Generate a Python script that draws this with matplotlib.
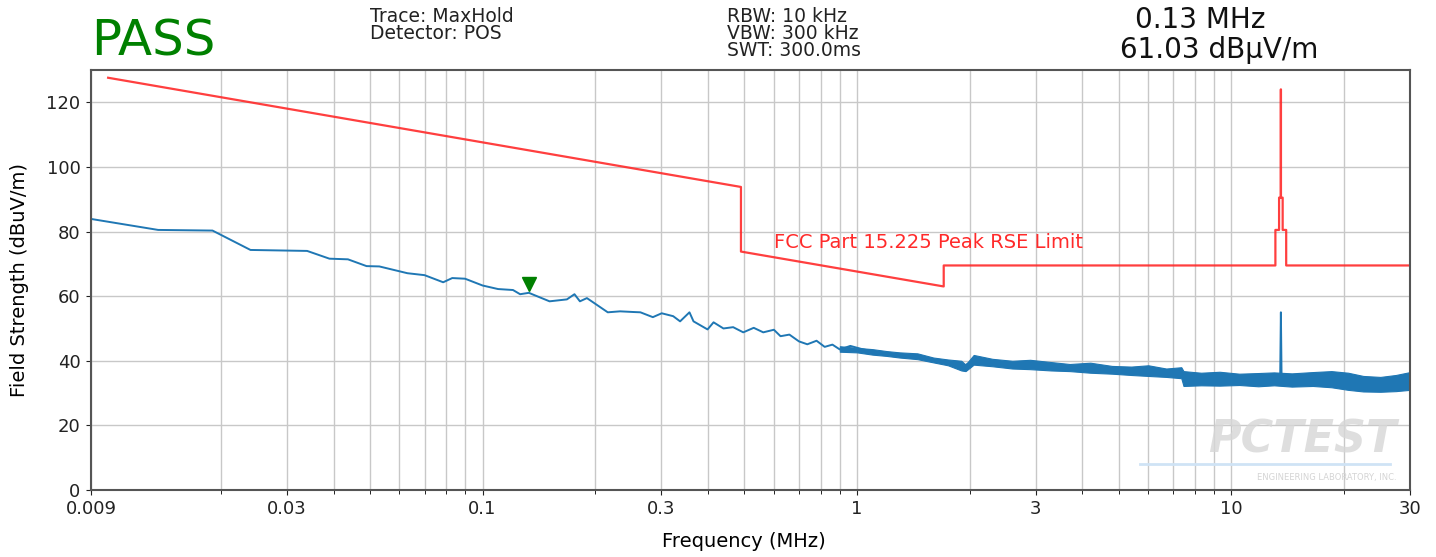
import numpy as np
import matplotlib
matplotlib.use("Agg")
import matplotlib.pyplot as plt
import matplotlib.transforms as mtransforms

# limit line breakpoints (MHz, dBuV/m)
limit_freq = [0.01, 0.49, 0.49, 1.705, 1.705, 13.11, 13.11, 13.41, 13.41, 13.553,
              13.553, 13.567, 13.567, 13.71, 13.71, 14.01, 14.01, 30]
limit_level = [127.6, 93.8, 73.8, 63.0, 69.5, 69.5, 80.5, 80.5, 90.5, 90.5,
               124.0, 124.0, 90.5, 90.5, 80.5, 80.5, 69.5, 69.5]

trace_freq = [0.009, 0.0136, 0.019, 0.024, 0.034, 0.039, 0.0437, 0.049, 0.053, 0.063,
              0.070, 0.0785, 0.083, 0.0898, 0.1, 0.11, 0.1206, 0.126, 0.133, 0.137,
              0.151, 0.168, 0.176, 0.182, 0.19, 0.216, 0.233, 0.252, 0.264, 0.285,
              0.301, 0.323, 0.337, 0.357, 0.366, 0.399, 0.414, 0.44, 0.467, 0.497,
              0.53, 0.562, 0.60, 0.625, 0.66, 0.70, 0.737, 0.78, 0.82, 0.86,
              0.90, 0.96, 1.04, 1.15, 1.28, 1.5, 1.92, 2.05, 2.89, 4.84, 7.4,
              7.5, 13.5, 13.56, 13.62, 18.3, 22.4, 30]
trace_level = [83.9, 80.5, 80.3, 74.3, 74.0, 71.6, 71.4, 69.3, 69.2, 67.1,
               66.5, 64.3, 65.6, 65.4, 63.3, 62.2, 61.9, 60.6, 61.03, 60.4,
               58.4, 59.0, 60.6, 58.4, 59.4, 55.0, 55.3, 55.1, 55.0, 53.5,
               54.7, 53.8, 52.2, 55.0, 52.2, 49.7, 51.9, 50.0, 50.4, 48.8,
               50.2, 48.8, 49.6, 47.6, 48.1, 46.0, 45.1, 46.2, 44.3, 45.0,
               43.5, 44.6, 43.5, 42.6, 41.7, 40.9, 38.2, 40.2, 38.6, 36.9, 35.8,
               34.0, 34.2, 55.0, 34.2, 34.0, 32.2, 33.4]

# noise envelope of the trace at the high end
band_freq = [0.9, 1.0, 1.1, 1.2, 1.3, 1.45, 1.6, 1.75, 1.9, 1.95, 2.05, 2.3, 2.6, 2.9,
             3.3, 3.7, 4.2, 4.8, 5.4, 6.0, 6.7, 7.35, 7.45, 8.3, 9.3, 10.5, 11.8, 13.0,
             14.5, 16.5, 18.5, 20.5, 22.5, 25, 27.5, 30]
band_upper = [44.5, 44.0, 43.6, 43.0, 42.6, 42.3, 41.0, 40.4, 40.0, 38.8, 41.8, 40.6,
              40.0, 40.3, 39.6, 39.0, 39.4, 38.4, 38.2, 38.6, 37.6, 38.0, 36.8, 36.3,
              36.6, 36.0, 36.2, 36.4, 36.1, 36.5, 36.8, 36.3, 35.3, 35.0, 35.6, 36.5]
band_lower = [42.8, 42.6, 41.9, 41.5, 41.0, 40.5, 39.5, 38.6, 37.0, 36.8, 38.8, 38.3,
              37.6, 37.4, 37.0, 36.8, 36.3, 36.0, 35.6, 35.3, 35.0, 34.6, 32.2, 32.4,
              32.3, 32.5, 32.1, 32.4, 32.0, 32.2, 31.8, 31.0, 30.5, 30.4, 30.6, 31.0]

marker_freq = 0.133
marker_level = 61.03

xticks = [0.009, 0.03, 0.1, 0.3, 1, 3, 10, 30]
xtick_labels = ["0.009", "0.03", "0.1", "0.3", "1", "3", "10", "30"]
yticks = [0, 20, 40, 60, 80, 100, 120]

W, H = 1436, 557
fig = plt.figure(figsize=(W / 100, H / 100), dpi=100)
ax = fig.add_axes([91 / W, 1 - 490 / H, (1410 - 91) / W, (490 - 70) / H])

ax.plot(limit_freq, limit_level, color="#ff2a2a", lw=1.6, alpha=0.9)
ax.fill_between(band_freq, band_lower, band_upper, color="#1f77b4", lw=0.8)
ax.plot(trace_freq, trace_level, color="#1f77b4", lw=1.4)

trans = mtransforms.offset_copy(ax.transData, fig=fig, x=0, y=6, units="points")
ax.plot([marker_freq], [marker_level], marker="v", color="green", ms=10,
        transform=trans, ls="none")

ax.text(0.6, 76.5, "FCC Part 15.225 Peak RSE Limit", color="#ff2a2a", fontsize=14,
        va="center")

# watermark
ax.text(0.99, 0.12, "PCTEST", transform=ax.transAxes, ha="right", va="center",
        fontsize=32, fontweight="bold", style="italic", color="#d6d6d6", alpha=0.8)
ax.text(0.99, 0.03, "ENGINEERING LABORATORY, INC.", transform=ax.transAxes,
        ha="right", va="center", fontsize=6, color="#d4d4d4")
ax.plot([0.795, 0.985], [0.062, 0.062], transform=ax.transAxes, color="#cfe3f5", lw=2)

ax.set_xscale("log")
ax.set_xlim(0.009, 30)
ax.set_ylim(0, 130)
ax.set_xticks(xticks)
ax.set_xticklabels(xtick_labels)
ax.set_yticks(yticks)
ax.grid(True, which="both", color="#c8c8c8", lw=1)
ax.set_axisbelow(True)
ax.tick_params(labelsize=13, colors="#222222", pad=4)
ax.tick_params(which="minor", length=3)
for s in ax.spines.values():
    s.set_color("#555555")
    s.set_linewidth(1.5)

ax.set_xlabel("Frequency (MHz)", fontsize=14)
ax.set_ylabel("Field Strength (dBuV/m)", fontsize=14)
ax.xaxis.set_label_coords((744 - 91) / 1319, (490 - 532) / 420)
ax.yaxis.set_label_coords((29 - 91) / 1319, 0.5)

fig.text(91 / W, 1 - 56 / H, "PASS", color="green", fontsize=36, va="baseline")
fig.text(370 / W, 1 - 7 / H, "Trace: MaxHold\nDetector: POS", fontsize=13.5,
         va="top", linespacing=0.85, color="#222222")
fig.text(727 / W, 1 - 7 / H, "RBW: 10 kHz\nVBW: 300 kHz\nSWT: 300.0ms", fontsize=13.5,
         va="top", linespacing=0.85, color="#222222")
fig.text(1135 / W, 1 - 6 / H, "0.13 MHz", fontsize=20, va="top", color="#111111")
fig.text(1120 / W, 1 - 36 / H, "61.03 dBµV/m", fontsize=20, va="top", color="#111111")

fig.savefig("out.png", dpi=100)
